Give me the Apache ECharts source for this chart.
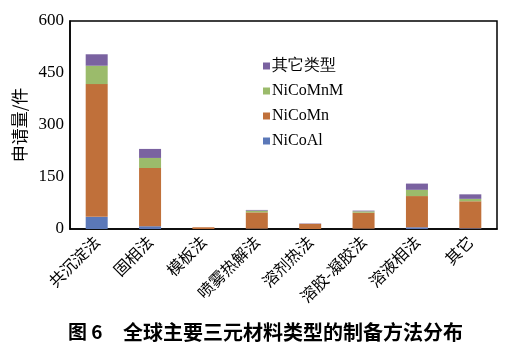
<!DOCTYPE html>
<html><head><meta charset="utf-8">
<script src="https://cdn.jsdelivr.net/npm/echarts@6/dist/echarts.min.js"></script>
<style>html,body{margin:0;padding:0;background:#fff}#c{width:516px;height:347px}</style>
</head><body><div id="c"></div>
<script>
const categories = ['共沉淀法','固相法','模板法','喷雾热解法','溶剂热法','溶胶-凝胶法','溶液相法','其它'];
const nicoal  = [35, 8, 0, 1, 0, 1, 5, 2];
const nicomn  = [383, 168, 5, 47, 15, 46, 90, 78];
const nicomnm = [53, 29, 0, 5, 0, 4, 18, 7];
const other   = [33, 26, 0, 2, 1, 2, 18, 13];
const yTicks = [0, 150, 300, 450, 600];

const colors = {NiCoAl:'#5b78b8', NiCoMn:'#c0703a', NiCoMnM:'#9bbb6b', other:'#7a62a0'};
const serif = 'Liberation Serif';
const cjk = 'Noto Sans CJK SC';

const chart = echarts.init(document.getElementById('c'));
function s(name, data, color){
  return {name, type:'bar', stack:'a', data, barWidth:22, itemStyle:{color}};
}
chart.setOption({
  animation:false,
  grid:{left:70, top:21, right:19, bottom:118, show:true, borderColor:'#000', borderWidth:1.5},
  legend:{
    orient:'vertical', left:258, top:53, itemWidth:7, itemHeight:7, itemGap:9,
    icon:'rect',
    textStyle:{fontFamily:serif, fontSize:16, color:'#000', padding:[0,0,0,-3]},
    data:['其它类型','NiCoMnM','NiCoMn','NiCoAl']
  },
  xAxis:{
    type:'category', data:categories,
    axisLine:{lineStyle:{color:'#000', width:1.5}},
    axisTick:{inside:true, length:4, lineStyle:{color:'#000', width:1.5}},
    axisLabel:{rotate:45, fontFamily:cjk, fontSize:16, color:'#000', margin:10, interval:0}
  },
  yAxis:{
    type:'value', min:yTicks[0], max:yTicks[yTicks.length-1], interval:150,
    name:'申请量/件', nameLocation:'middle', nameGap:39,
    nameTextStyle:{fontFamily:cjk, fontSize:17, color:'#000'},
    axisLine:{show:true, lineStyle:{color:'#000', width:1.5}},
    axisTick:{show:false},
    splitLine:{show:false},
    axisLabel:{fontFamily:serif, fontSize:17, color:'#000', margin:6}
  },
  series:[
    s('NiCoAl', nicoal, colors.NiCoAl),
    s('NiCoMn', nicomn, colors.NiCoMn),
    s('NiCoMnM', nicomnm, colors.NiCoMnM),
    s('其它类型', other, colors.other)
  ],
  graphic:[
    {type:'text', left:68, top:322, style:{text:'图 6', fontFamily:cjk, fontSize:19, fontWeight:'bold', fill:'#000'}},
    {type:'text', left:123, top:322, style:{text:'全球主要三元材料类型的制备方法分布', fontFamily:cjk, fontSize:20, fontWeight:'bold', fill:'#000'}}
  ]
});
</script></body></html>
